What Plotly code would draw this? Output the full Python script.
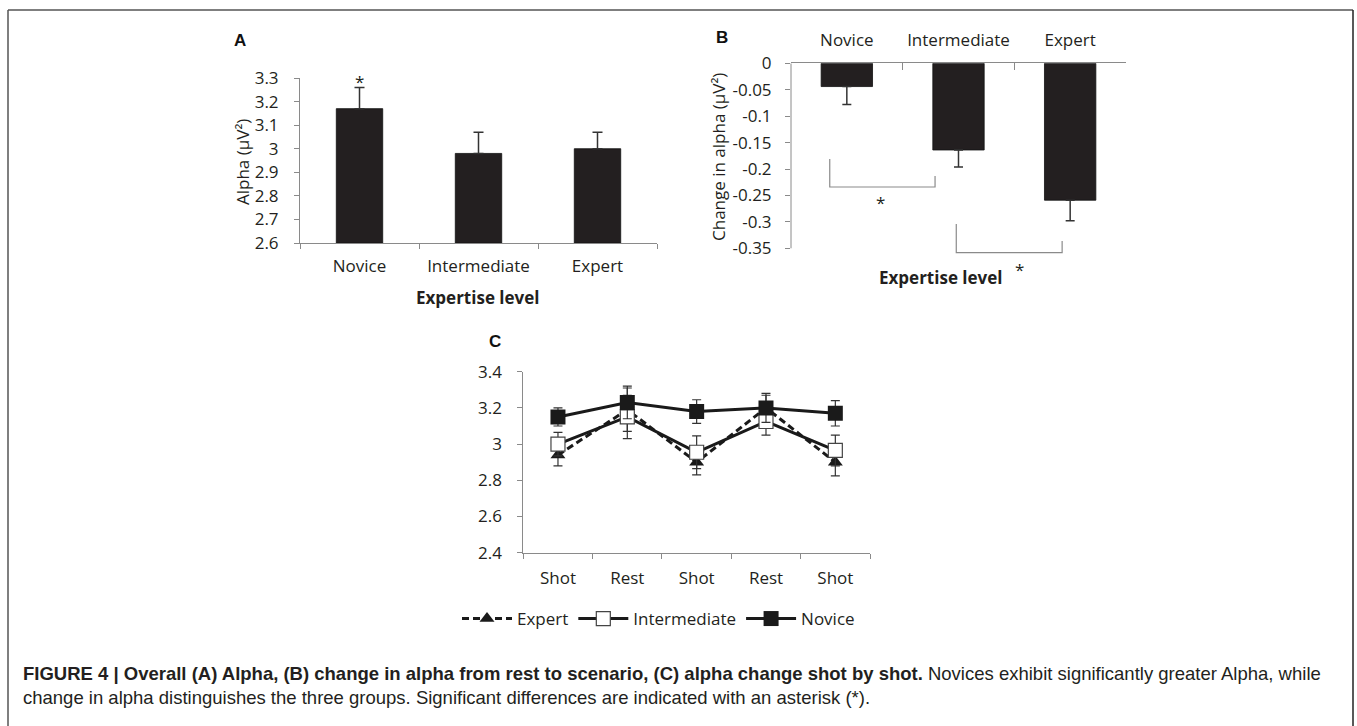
import plotly.graph_objects as go

W, H = 1357, 726

# ---------------- data ----------------
groups = ["Novice", "Intermediate", "Expert"]
alpha_mean = [3.17, 2.98, 3.00]
alpha_err = [0.09, 0.09, 0.07]

change_mean = [-0.044, -0.164, -0.259]
change_err = [0.034, 0.032, 0.039]

phases = ["Shot", "Rest", "Shot", "Rest", "Shot"]
expert_c = [2.94, 3.19, 2.90, 3.20, 2.90]
expert_c_err = [0.06, 0.12, 0.07, 0.07, 0.075]
inter_c = [3.00, 3.15, 2.955, 3.125, 2.965]
inter_c_err = [0.065, 0.12, 0.09, 0.075, 0.085]
novice_c = [3.15, 3.23, 3.18, 3.20, 3.17]
novice_c_err = [0.05, 0.09, 0.065, 0.08, 0.07]

a_ticks = [2.6, 2.7, 2.8, 2.9, 3.0, 3.1, 3.2, 3.3]
a_ticklabels = ["2.6", "2.7", "2.8", "2.9", "3", "3.1", "3.2", "3.3"]
b_ticks = [0, -0.05, -0.1, -0.15, -0.2, -0.25, -0.3, -0.35]
b_ticklabels = ["0", "-0.05", "-0.1", "-0.15", "-0.2", "-0.25", "-0.3", "-0.35"]
c_ticks = [2.4, 2.6, 2.8, 3.0, 3.2, 3.4]
c_ticklabels = ["2.4", "2.6", "2.8", "3", "3.2", "3.4"]

# significance brackets in panel B: (x_left, x_right, y_left_top, y_right_top, y_bottom)
b_brackets = [(-0.153, 0.79, -0.181, -0.213, -0.234),
              (0.98, 1.928, -0.304, -0.336, -0.358)]
b_stars = [(0.298, -0.264), (1.545, -0.391)]

# ---------------- style ----------------
FONT = "Open Sans"
TXT = "#231f20"
AX = "#8a8a8a"
BAR = "#231f20"
FS = 17


def px(x):
    return x / W


def py(y):
    return 1 - y / H


# panel B geometry (pixels)
B_LEFT, B_RIGHT = 791, 1126
b_range = [-0.375, 0]
b_top, b_px_per = 63.3, 26.43 / 0.05
b_bottom = b_top + (b_range[1] - b_range[0]) * b_px_per
b_cat_w = (B_RIGHT - B_LEFT) / len(groups)


def b_to_paper(xv, yv):
    return px(B_LEFT + (xv + 0.5) * b_cat_w), py(b_top - yv * b_px_per)


fig = go.Figure()

# Panel A
fig.add_trace(go.Bar(
    x=groups, y=[m - 2.6 for m in alpha_mean], base=2.6, width=0.39,
    marker=dict(color=BAR, line=dict(color="#111", width=0.8)),
    error_y=dict(type="data", array=alpha_err, arrayminus=[0] * 3, symmetric=False,
                 color="#333", thickness=1.5, width=5),
    xaxis="x", yaxis="y", showlegend=False, hoverinfo="skip"))

# Panel B
fig.add_trace(go.Bar(
    x=groups, y=change_mean, width=0.46,
    marker=dict(color=BAR, line=dict(color="#111", width=0.8)),
    error_y=dict(type="data", array=[0] * 3, arrayminus=change_err, symmetric=False,
                 color="#333", thickness=1.5, width=4.5),
    xaxis="x2", yaxis="y2", showlegend=False, hoverinfo="skip"))

# Panel C
xc = list(range(len(phases)))
fig.add_trace(go.Scatter(
    x=xc, y=expert_c, name="Expert", mode="lines+markers",
    line=dict(color="#1a1a1a", width=3, dash="7px,4px"),
    marker=dict(symbol="triangle-up", size=13, color="#1a1a1a"),
    error_y=dict(type="data", array=expert_c_err, color="#333", thickness=1.2, width=4.5),
    xaxis="x3", yaxis="y3"))
fig.add_trace(go.Scatter(
    x=xc, y=inter_c, name="Intermediate", mode="lines+markers",
    line=dict(color="#1a1a1a", width=3),
    marker=dict(symbol="square", size=14, color="white", line=dict(color="#444", width=1.2)),
    error_y=dict(type="data", array=inter_c_err, color="#333", thickness=1.2, width=4.5),
    xaxis="x3", yaxis="y3"))
fig.add_trace(go.Scatter(
    x=xc, y=novice_c, name="Novice", mode="lines+markers",
    line=dict(color="#1a1a1a", width=3),
    marker=dict(symbol="square", size=15, color="#1a1a1a"),
    error_y=dict(type="data", array=novice_c_err, color="#333", thickness=1.2, width=4.5),
    xaxis="x3", yaxis="y3"))

tickfont = dict(family=FONT, size=FS, color=TXT)
common = dict(showgrid=False, zeroline=False, linecolor=AX, linewidth=1, tickcolor=AX,
              tickwidth=1, tickfont=tickfont, fixedrange=True, automargin=False, tickangle=0)

fig.update_layout(
    width=W, height=H, autosize=False,
    margin=dict(l=0, r=0, t=0, b=0, pad=0, autoexpand=False),
    paper_bgcolor="white", plot_bgcolor="white",
    font=dict(family=FONT, size=FS, color=TXT),
    xaxis=dict(domain=[px(300), px(657)], anchor="y", type="category",
               tickson="boundaries", ticks="outside", ticklen=5, showline=True,
               ticklabelstandoff=8, **common),
    yaxis=dict(domain=[py(243), py(78)], anchor="x", range=[2.6, 3.3],
               tickvals=a_ticks, ticktext=a_ticklabels, ticks="outside", ticklen=5,
               showline=True, ticklabelstandoff=12, **common),
    xaxis2=dict(domain=[px(B_LEFT), px(B_RIGHT)], anchor="y2", type="category", side="top",
                tickson="boundaries", ticks="inside", ticklen=7, showline=True,
                ticklabelstandoff=10, **common),
    yaxis2=dict(domain=[py(b_bottom), py(b_top)], anchor="x2", range=b_range,
                tickvals=b_ticks, ticktext=b_ticklabels, ticks="outside", ticklen=5,
                showline=False, ticklabelstandoff=10, **common),
    xaxis3=dict(domain=[px(523.3), px(870)], anchor="y3", range=[-0.5, len(phases) - 0.5],
                tickvals=xc, ticktext=phases, ticks="", showline=True,
                ticklabelstandoff=10,
                minor=dict(tickmode="array", tickvals=[i - 0.5 for i in range(len(phases) + 1)],
                           ticks="outside", ticklen=5, tickcolor=AX, tickwidth=1, showgrid=False),
                **common),
    yaxis3=dict(domain=[py(552.7), py(371.7)], anchor="x3", range=[2.4, 3.4],
                tickvals=c_ticks, ticktext=c_ticklabels, ticks="outside", ticklen=5,
                showline=True, ticklabelstandoff=12, **common),
    legend=dict(orientation="h", x=px(457), y=py(619), xanchor="left", yanchor="middle",
                font=dict(family=FONT, size=FS, color=TXT), bgcolor="rgba(0,0,0,0)",
                itemwidth=50, traceorder="normal"),
    bargap=0.6,
)

shapes = []
# B y axis line (0 to -0.35)
shapes.append(dict(type="line", xref="x2 domain", yref="y2", x0=0, x1=0,
                   y0=b_ticks[0], y1=b_ticks[-1], line=dict(color=AX, width=1)))
for (xl, xr, yl, yr, yb) in b_brackets:
    shapes.append(dict(type="path", xref="x2", yref="y2",
                       path=f"M{xl},{yl} L{xl},{yb} L{xr},{yb} L{xr},{yr}",
                       line=dict(color=AX, width=1.2)))
# figure frame
frame = dict(color="#555", width=1.5)
shapes.append(dict(type="line", xref="paper", yref="paper", x0=px(8), x1=px(1353),
                   y0=py(10), y1=py(10), line=frame))
shapes.append(dict(type="line", xref="paper", yref="paper", x0=px(8), x1=px(8),
                   y0=py(10), y1=0, line=frame))
shapes.append(dict(type="line", xref="paper", yref="paper", x0=px(1353), x1=px(1353),
                   y0=py(10), y1=0, line=dict(color="#222", width=1.5)))

ann = []
bold = dict(family="Liberation Sans", size=17, color="#111")
ann.append(dict(text="<b>A</b>", x=px(240), y=py(40), xref="paper", yref="paper",
                showarrow=False, font=bold, xanchor="center", yanchor="middle"))
ann.append(dict(text="<b>B</b>", x=px(722), y=py(37), xref="paper", yref="paper",
                showarrow=False, font=bold, xanchor="center", yanchor="middle"))
ann.append(dict(text="<b>C</b>", x=px(495), y=py(341), xref="paper", yref="paper",
                showarrow=False, font=bold, xanchor="center", yanchor="middle"))
# axis titles
ann.append(dict(text="Alpha (µV²)", x=px(242), y=py(162), xref="paper", yref="paper",
                textangle=-90, showarrow=False, font=tickfont, xanchor="center", yanchor="middle"))
ann.append(dict(text="Change in alpha (µV²)", x=px(718), y=py(157), xref="paper", yref="paper",
                textangle=-90, showarrow=False, font=tickfont, xanchor="center", yanchor="middle"))
ann.append(dict(text="<b>Expertise level</b>", x=px(477), y=py(297), xref="paper", yref="paper",
                showarrow=False, font=tickfont, xanchor="center", yanchor="middle"))
ann.append(dict(text="<b>Expertise level</b>", x=px(940), y=py(277), xref="paper", yref="paper",
                showarrow=False, font=tickfont, xanchor="center", yanchor="middle"))
# asterisks
ann.append(dict(text="*", x=groups[0], y=alpha_mean[0] + alpha_err[0], xref="x", yref="y",
                showarrow=False, font=tickfont, yanchor="bottom", yshift=-8))
for (sx, sy) in b_stars:
    ax_, ay_ = b_to_paper(sx, sy)
    ann.append(dict(text="*", x=ax_, y=ay_, xref="paper", yref="paper", showarrow=False,
                    font=tickfont, xanchor="center", yanchor="middle"))
# caption
cap_font = dict(family="Liberation Sans", size=18.5, color=TXT)
ann.append(dict(text="<b>FIGURE 4 | Overall (A) Alpha, (B) change in alpha from rest to scenario, "
                     "(C) alpha change shot by shot.</b> Novices exhibit significantly greater Alpha, while",
                x=px(21), y=py(673), xref="paper", yref="paper", showarrow=False,
                font=cap_font, xanchor="left", yanchor="middle"))
ann.append(dict(text="change in alpha distinguishes the three groups. Significant differences "
                     "are indicated with an asterisk (*).",
                x=px(21), y=py(697), xref="paper", yref="paper", showarrow=False,
                font=cap_font, xanchor="left", yanchor="middle"))

fig.update_layout(shapes=shapes, annotations=ann)

fig.write_html("out.html", config={"displayModeBar": False},
               post_script="document.body.style.margin='0';document.body.style.overflow='hidden';")
